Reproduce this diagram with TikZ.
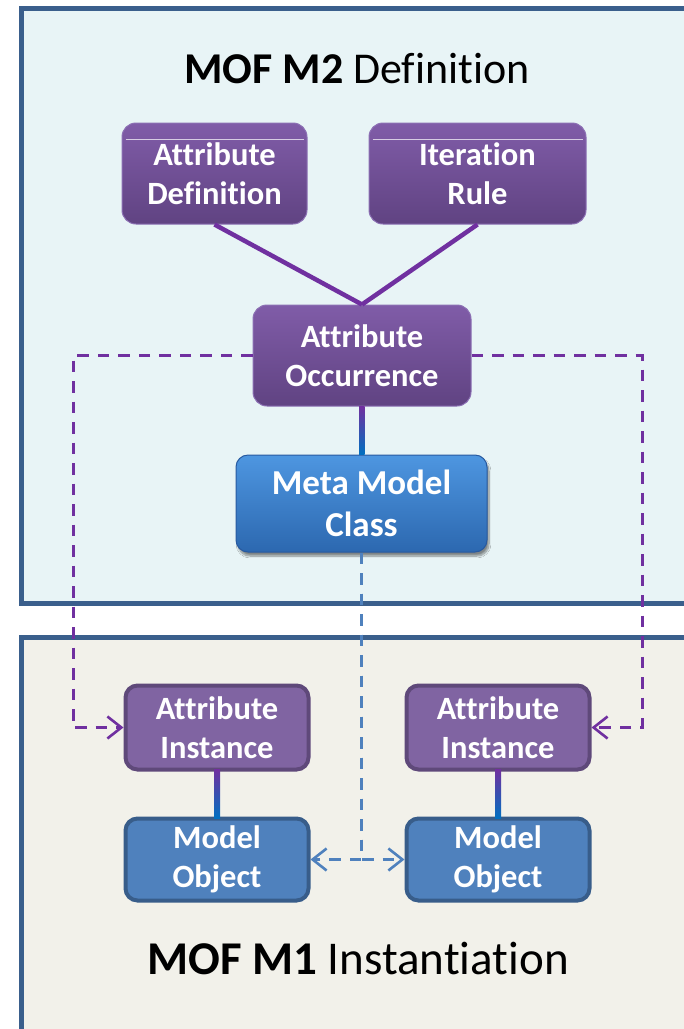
\documentclass[tikz,border=0pt]{standalone}
\usepackage{fontspec}
\setmainfont{Carlito}[Ligatures={NoCommon,NoContextual}]
\usetikzlibrary{arrows.meta,calc,shadows.blur}

\definecolor{panelborder}{RGB}{58,95,140}
\definecolor{defbg}{RGB}{232,244,246}
\definecolor{instbg}{RGB}{242,241,234}
\definecolor{purpletop}{RGB}{128,92,168}
\definecolor{purplebot}{RGB}{96,67,130}
\definecolor{purpleedge}{RGB}{140,112,180}
\definecolor{instfill}{RGB}{128,100,162}
\definecolor{instedge}{RGB}{95,73,122}
\definecolor{objfill}{RGB}{79,129,189}
\definecolor{objedge}{RGB}{56,93,138}
\definecolor{metatop}{RGB}{78,150,224}
\definecolor{metabot}{RGB}{44,104,176}
\definecolor{metaedge}{RGB}{40,90,160}
\definecolor{linkpurple}{RGB}{112,48,160}
\definecolor{linkblue}{RGB}{0,112,192}
\definecolor{dashblue}{RGB}{79,129,189}

\tikzset{
  boxtext/.style={text=white, align=center,
    font=\bfseries\fontsize{32.5}{38.5}\selectfont},
  defbox/.style={boxtext, rounded corners=14pt, draw=purpleedge, line width=1pt,
    top color=purpletop, bottom color=purplebot,
    minimum width=185pt, minimum height=101pt, inner sep=0pt},
  metabox/.style={boxtext, font=\bfseries\fontsize{35}{42}\selectfont,
    rounded corners=12pt, draw=metaedge, line width=1pt,
    top color=metatop, bottom color=metabot,
    minimum width=251pt, minimum height=97pt, inner sep=0pt,
    blur shadow={shadow xshift=2pt, shadow yshift=-4pt, shadow blur steps=8, shadow opacity=45}},
  instbox/.style={boxtext, rounded corners=12pt, draw=instedge, line width=4pt,
    fill=instfill, minimum width=183pt, minimum height=84pt, inner sep=0pt},
  objbox/.style={boxtext, rounded corners=12pt, draw=objedge, line width=4pt,
    fill=objfill, minimum width=183pt, minimum height=82pt, inner sep=0pt},
  panel/.style={draw=panelborder, line width=5pt},
  solidlink/.style={draw=linkpurple, line width=4.5pt},
  pdash/.style={draw=linkpurple, line width=3pt, dash pattern=on 11.5pt off 9pt,
    -{Straight Barb[length=14pt,width=22pt,line width=2.6pt]}},
  bdash/.style={draw=dashblue, line width=3pt, dash pattern=on 11.5pt off 9pt,
    -{Straight Barb[length=14pt,width=22pt,line width=2.6pt]}},
  titletext/.style={font=\fontsize{44}{52}\selectfont, anchor=base}
}

\begin{document}
\begin{tikzpicture}[x=1pt,y=-1pt]
\useasboundingbox (0,0) rectangle (684,1029);
\begin{scope}
\clip (0,0) rectangle (684,1029);

% panels
\path[panel, fill=defbg] (21,8) rectangle (720,603);
\path[panel, fill=instbg] (21,637) rectangle (720,1060);

% headings
\node[titletext] (ttop) at (357,83) {\textbf{MOF M2} Definition};
\node[titletext, font=\fontsize{47}{55}\selectfont] (tbot) at (358,974) {\textbf{MOF M1} Instantiation};

% M2 nodes
\node[defbox] (adef) at (214.5,173.5) {Attribute\\Definition};
\node[defbox, minimum width=217pt] (irule) at (477.5,173.5) {Iteration\\Rule};
\node[defbox, minimum width=218pt] (aocc) at (362,355.5) {Attribute\\Occurrence};
\node[metabox] (meta) at (361.5,503.5) {Meta Model\\Class};

% top highlight strips
\foreach \n in {adef,irule}{
  \draw[white, opacity=0.7, line width=0.8pt]
    ($(\n.north west)+(4,17)$) -- ($(\n.north east)+(-4,17)$);
}

% M1 nodes
\node[instbox] (ainl) at (217,727.5) {Attribute\\Instance};
\node[instbox] (ainr) at (498,727.5) {Attribute\\Instance};
\node[objbox] (mol) at (217,859.5) {Model\\Object};
\node[objbox] (mor) at (498,859.5) {Model\\Object};

% rails for the dashed connectors
\coordinate (lrail) at (73,0);
\coordinate (rrail) at (642,0);

% solid links
\draw[solidlink] (adef.south) -- (aocc.north);
\draw[solidlink] (irule.south) -- (aocc.north);
\shade[top color=linkpurple, bottom color=linkblue]
  ($(aocc.south)+(-3,0)$) rectangle ($(meta.north)+(3,0)$);
\shade[top color=linkpurple, bottom color=linkblue]
  ($(ainl.south)+(-3,-2)$) rectangle ($(mol.north)+(3,2)$);
\shade[top color=linkpurple, bottom color=linkblue]
  ($(ainr.south)+(-3,-2)$) rectangle ($(mor.north)+(3,2)$);

% instantiation links
\draw[pdash] (aocc.west) -- (aocc.west -| lrail) -- (lrail |- ainl.west) -- (ainl.west);
\draw[pdash] (aocc.east) -- (aocc.east -| rrail) -- (rrail |- ainr.east) -- (ainr.east);
\draw[bdash] (meta.south) |- (mol.east);
\draw[bdash] (meta.south) |- (mor.west);
\end{scope}
\end{tikzpicture}
\end{document}
